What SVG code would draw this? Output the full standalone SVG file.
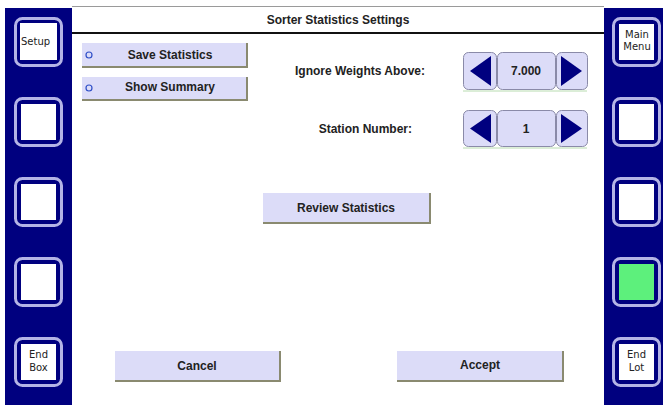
<svg xmlns="http://www.w3.org/2000/svg" width="663" height="405" viewBox="0 0 663 405">
  <style>
    .side { fill: #00007f; }
    .ring { fill: #00007f; stroke: #b4b4e6; stroke-width: 3; }
    .face { fill: #ffffff; }
    .lit { fill: #5df07c; }
    .key { font-family: "DejaVu Sans", sans-serif; font-size: 10px; fill: #222; }
    .btn { fill: #dcdcf8; }
    .shade { fill: none; stroke: #8a8a70; stroke-width: 2; }
    .lbl { font-family: "Liberation Sans", Arial, sans-serif; font-size: 12px; font-weight: bold; fill: #222; text-anchor: middle; }
    .lbr { font-family: "Liberation Sans", Arial, sans-serif; font-size: 12px; font-weight: bold; fill: #222; text-anchor: end; }
    .seg { fill: #dcdcf8; stroke: #8a8aa8; stroke-width: 1; }
    .arr { fill: #00007f; }
    .dot { fill: none; stroke: #3050c8; stroke-width: 1.2; }
  </style>
  <defs>
    <g id="softkey">
      <rect x="1.5" y="1.5" width="46" height="47" rx="7" class="ring"/>
    </g>
  </defs>

  <!-- screen background -->
  <rect x="0" y="0" width="663" height="405" fill="#ffffff"/>
  <line x1="72" y1="6.5" x2="604" y2="6.5" stroke="#9a9a9a" stroke-width="1"/>

  <!-- title bar -->
  <g id="title">
    <text x="338" y="24" class="lbl">Sorter Statistics Settings</text>
    <line x1="72" y1="33" x2="604" y2="33" stroke="#111" stroke-width="2"/>
  </g>

  <!-- left soft-key column -->
  <rect x="5" y="8" width="67" height="397" class="side"/>
  <g id="key-setup" transform="translate(14,17)">
    <use href="#softkey"/><rect x="6" y="6" width="37" height="37" class="face"/>
    <text x="7" y="28" class="key">Setup</text>
  </g>
  <g id="key-l2" transform="translate(14,97)">
    <use href="#softkey"/><rect x="7" y="7" width="35" height="36" class="face"/>
  </g>
  <g id="key-l3" transform="translate(14,177)">
    <use href="#softkey"/><rect x="7" y="7" width="35" height="36" class="face"/>
  </g>
  <g id="key-l4" transform="translate(14,257)">
    <use href="#softkey"/><rect x="7" y="7" width="35" height="36" class="face"/>
  </g>
  <g id="key-endbox" transform="translate(14,337)">
    <use href="#softkey"/><rect x="7" y="7" width="35" height="36" class="face"/>
    <text x="24.5" y="21" class="key" text-anchor="middle">End</text>
    <text x="24.5" y="34" class="key" text-anchor="middle">Box</text>
  </g>

  <!-- right soft-key column -->
  <rect x="604" y="8" width="59" height="397" class="side"/>
  <g id="key-mainmenu" transform="translate(612,17)">
    <use href="#softkey"/><rect x="7" y="7" width="35" height="36" class="face"/>
    <text x="25" y="21" class="key" text-anchor="middle">Main</text>
    <text x="25" y="33" class="key" text-anchor="middle">Menu</text>
  </g>
  <g id="key-r2" transform="translate(612,97)">
    <use href="#softkey"/><rect x="7" y="7" width="35" height="36" class="face"/>
  </g>
  <g id="key-r3" transform="translate(612,177)">
    <use href="#softkey"/><rect x="7" y="7" width="35" height="36" class="face"/>
  </g>
  <g id="key-r4" transform="translate(612,257)">
    <use href="#softkey"/><rect x="7" y="7" width="35" height="36" class="lit"/>
  </g>
  <g id="key-endlot" transform="translate(612,337)">
    <use href="#softkey"/><rect x="7" y="7" width="35" height="36" class="face"/>
    <text x="24.5" y="21" class="key" text-anchor="middle">End</text>
    <text x="24.5" y="34" class="key" text-anchor="middle">Lot</text>
  </g>

  <!-- option buttons -->
  <g id="save-statistics">
    <rect x="82" y="43" width="164" height="23" class="btn"/>
    <polyline points="82,67 247,67 247,43" class="shade"/>
    <circle cx="89" cy="55" r="3" class="dot"/>
    <text x="170" y="59" class="lbl">Save Statistics</text>
  </g>
  <g id="show-summary">
    <rect x="82" y="77" width="164" height="22" class="btn"/>
    <polyline points="82,100 247,100 247,77" class="shade"/>
    <circle cx="89" cy="88" r="3" class="dot"/>
    <text x="170" y="91" class="lbl">Show Summary</text>
  </g>

  <!-- ignore weights spinner -->
  <g id="ignore-weights">
    <text x="425" y="75" class="lbr">Ignore Weights Above:</text>
    <line x1="463" y1="91" x2="587" y2="91" stroke="#b8dcb0" stroke-width="1"/>
    <rect x="463.5" y="52.5" width="33" height="37" rx="5" class="seg"/>
    <rect x="497.5" y="52.5" width="58" height="37" rx="5" class="seg"/>
    <rect x="556.5" y="52.5" width="31" height="37" rx="5" class="seg"/>
    <polygon points="491,56 491,86 470,71" class="arr"/>
    <polygon points="561,56 561,86 582,71" class="arr"/>
    <text x="526" y="75" class="lbl">7.000</text>
  </g>

  <!-- station number spinner -->
  <g id="station-number">
    <text x="412" y="133" class="lbr">Station Number:</text>
    <line x1="463" y1="148" x2="587" y2="148" stroke="#b8dcb0" stroke-width="1"/>
    <rect x="463.5" y="110.5" width="33" height="36" rx="5" class="seg"/>
    <rect x="497.5" y="110.5" width="58" height="36" rx="5" class="seg"/>
    <rect x="556.5" y="110.5" width="31" height="36" rx="5" class="seg"/>
    <polygon points="491,114 491,143 470,128.5" class="arr"/>
    <polygon points="561,114 561,143 582,128.5" class="arr"/>
    <text x="526" y="133" class="lbl">1</text>
  </g>

  <!-- action buttons -->
  <g id="review-statistics">
    <rect x="263" y="193" width="166" height="29" class="btn"/>
    <polyline points="263,223 430,223 430,193" class="shade"/>
    <text x="346" y="212" class="lbl">Review Statistics</text>
  </g>
  <g id="cancel">
    <rect x="115" y="351" width="164" height="29" class="btn"/>
    <polyline points="115,381 280,381 280,351" class="shade"/>
    <text x="197" y="370" class="lbl">Cancel</text>
  </g>
  <g id="accept">
    <rect x="397" y="351" width="165" height="29" class="btn"/>
    <polyline points="397,381 563,381 563,351" class="shade"/>
    <text x="480" y="369" class="lbl">Accept</text>
  </g>
</svg>
